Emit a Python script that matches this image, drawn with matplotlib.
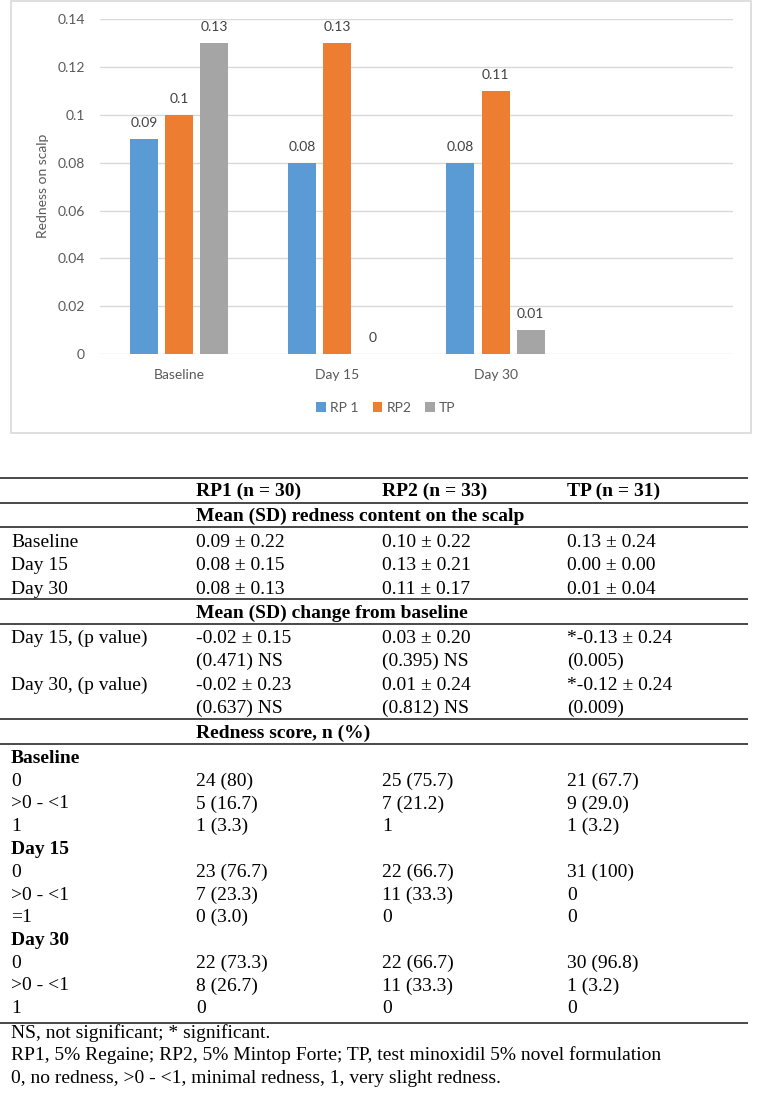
import numpy as np
import matplotlib.pyplot as plt
from matplotlib.patches import Rectangle, Patch

# Chart data
categories = ['Baseline', 'Day 15', 'Day 30', '']
series_names = ['RP 1', 'RP2', 'TP']
rp1 = [0.09, 0.08, 0.08]
rp2 = [0.10, 0.13, 0.11]
tp = [0.13, 0.0, 0.01]
yticks = [0, 0.02, 0.04, 0.06, 0.08, 0.1, 0.12, 0.14]
ytick_labels = ['0', '0.02', '0.04', '0.06', '0.08', '0.1', '0.12', '0.14']

# Table data
header = ['RP1 (n = 30)', 'RP2 (n = 33)', 'TP (n = 31)']
sec1_title = 'Mean (SD) redness content on the scalp'
sec1_rows = [
    ['Baseline', '0.09 ± 0.22', '0.10 ± 0.22', '0.13 ± 0.24'],
    ['Day 15', '0.08 ± 0.15', '0.13 ± 0.21', '0.00 ± 0.00'],
    ['Day 30', '0.08 ± 0.13', '0.11 ± 0.17', '0.01 ± 0.04'],
]
sec2_title = 'Mean (SD) change from baseline'
sec2_rows = [
    ['Day 15, (p value)', '-0.02 ± 0.15', '0.03 ± 0.20', '*-0.13 ± 0.24'],
    ['', '(0.471) NS', '(0.395) NS', '(0.005)'],
    ['Day 30, (p value)', '-0.02 ± 0.23', '0.01 ± 0.24', '*-0.12 ± 0.24'],
    ['', '(0.637) NS', '(0.812) NS', '(0.009)'],
]
sec3_title = 'Redness score, n (%)'
sec3_rows = [
    ['Baseline', '', '', ''],
    ['0', '24 (80)', '25 (75.7)', '21 (67.7)'],
    ['>0 - <1', '5 (16.7)', '7 (21.2)', '9 (29.0)'],
    ['1', '1 (3.3)', '1', '1 (3.2)'],
    ['Day 15', '', '', ''],
    ['0', '23 (76.7)', '22 (66.7)', '31 (100)'],
    ['>0 - <1', '7 (23.3)', '11 (33.3)', '0'],
    ['=1', '0 (3.0)', '0', '0'],
    ['Day 30', '', '', ''],
    ['0', '22 (73.3)', '22 (66.7)', '30 (96.8)'],
    ['>0 - <1', '8 (26.7)', '11 (33.3)', '1 (3.2)'],
    ['1', '0', '0', '0'],
]
footnotes = [
    'NS, not significant; * significant.',
    'RP1, 5% Regaine; RP2, 5% Mintop Forte; TP, test minoxidil 5% novel formulation',
    '0, no redness, >0 - <1, minimal redness, 1, very slight redness.',
]

W, H = 757, 1103
fig = plt.figure(figsize=(W / 100, H / 100), dpi=100)

# overlay axes in pixel coordinates for the box and the table
ov = fig.add_axes([0, 0, 1, 1])
ov.set_xlim(0, W)
ov.set_ylim(H, 0)
ov.axis('off')

ov.add_patch(Rectangle((11, 1), 740, 432, fill=False, edgecolor='#d9d9d9', lw=1.2))

# Bar chart
ax = fig.add_axes([100 / W, 1 - 354 / H, 633 / W, (354 - 19.3) / H])
colors = ['#5B9BD5', '#ED7D31', '#A5A5A5']
width = 0.177
step = 0.222
x = np.arange(3)
for i, (vals, c) in enumerate(zip([rp1, rp2, tp], colors)):
    xs = x + (i - 1) * step
    ax.bar(xs, vals, width=width, color=c, zorder=3)
    for xx, v in zip(xs, vals):
        ax.annotate(f'{v:g}', (xx, v), xytext=(0, 11.5), textcoords='offset points',
                    ha='center', va='center', fontsize=10, color='#404040',
                    family='Lato')

ax.set_xlim(-0.5, 3.5)
ax.set_ylim(0, 0.14)
ax.set_xticks(range(4))
ax.set_xticklabels(categories, fontsize=10, color='#595959', family='Lato')
ax.set_yticks(yticks)
ax.set_yticklabels(ytick_labels, fontsize=10, color='#595959', family='Lato')
ax.tick_params(length=0)
ax.tick_params(axis='y', pad=11)
ax.tick_params(axis='x', pad=11)
ax.grid(axis='y', color='#d9d9d9', lw=1, zorder=0)
for s in ax.spines.values():
    s.set_visible(False)
ax.set_axisbelow(True)

ov.text(43, 186, 'Redness on scalp', rotation=90, ha='center', va='center',
        fontsize=10, color='#595959', family='Lato')

handles = [Patch(facecolor=c, edgecolor='none') for c in colors]
fig.legend(handles, series_names, loc='center', bbox_to_anchor=(386 / W, 1 - 408 / H),
           ncol=3, frameon=False, fontsize=10, handlelength=0.7, handleheight=0.7,
           handletextpad=0.3, columnspacing=1.0, prop={'family': 'Lato', 'size': 10},
           labelcolor='#595959')

# Table
fs = 14
col_x = [11, 196, 382, 567]
serif = 'Liberation Serif'


def hline(y):
    ov.plot([0, 748], [y, y], color='#3a3a3a', lw=1.3, solid_capstyle='butt')


def row(y, cells, bold_first=False):
    for cx, t in zip(col_x, cells):
        if t:
            ov.text(cx, y, t, ha='left', va='baseline', fontsize=fs, family=serif,
                    fontweight='bold' if (bold_first and cx == col_x[0]) else 'normal')


for y in [478, 503, 527, 599, 624, 719, 744, 1023]:
    hline(y)

for cx, t in zip(col_x[1:], header):
    ov.text(cx, 496, t, ha='left', va='baseline', fontsize=fs, family=serif, fontweight='bold')

ov.text(col_x[1], 521, sec1_title, ha='left', va='baseline', fontsize=fs, family=serif, fontweight='bold')
for k, r in enumerate(sec1_rows):
    row(547 + k * 23.5, r)

ov.text(col_x[1], 618, sec2_title, ha='left', va='baseline', fontsize=fs, family=serif, fontweight='bold')
for k, r in enumerate(sec2_rows):
    row(643 + k * 23.4, r)

ov.text(col_x[1], 738, sec3_title, ha='left', va='baseline', fontsize=fs, family=serif, fontweight='bold')
for k, r in enumerate(sec3_rows):
    row(763 + k * 22.75, r, bold_first=(r[1] == ''))

for k, t in enumerate(footnotes):
    ov.text(11, 1038 + k * 22.5, t, ha='left', va='baseline', fontsize=fs, family=serif)

fig.savefig('out.png', dpi=100)
